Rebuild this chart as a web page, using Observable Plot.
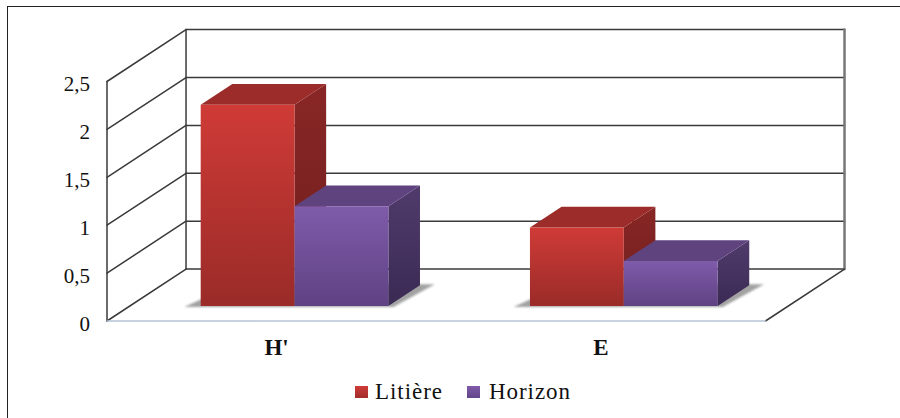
<!DOCTYPE html>
<html lang="fr">
<head>
<meta charset="utf-8">
<script src="https://cdn.jsdelivr.net/npm/d3@7"></script>
<script src="https://cdn.jsdelivr.net/npm/@observablehq/plot@0.6"></script>
<style>
  html, body { margin: 0; padding: 0; background: #fff; }
  #page { position: relative; width: 900px; height: 418px; overflow: hidden; font-family: "Liberation Serif", serif; color: #111; }
  #border { position: absolute; left: 7px; top: 6px; width: 900px; height: 420px; border-left: 1.5px solid #222; border-top: 1.5px solid #222; pointer-events: none; }
  #chart svg { display: block; }
  #legend { height: 40px; display: flex; align-items: center; padding-left: 355px; font-size: 23px; letter-spacing: 0.95px; }
  #legend .swatch { width: 13px; height: 12px; margin-right: 7px; }
  #legend .item { display: flex; align-items: center; margin-right: 24px; }
  #legend .item + .item .swatch { margin-right: 9px; }
</style>
</head>
<body>
<div id="page">
  <div id="chart"></div>
  <div id="legend"></div>
  <div id="border"></div>
</div>
<script>
// Diversité (H') et équitabilité (E) par compartiment
const categories = ["H'", "E"];
const series = ["Litière", "Horizon"];
const litiere = [2.1, 0.82];
const horizon = [1.04, 0.47];
const valuesBySeries = [litiere, horizon];
const yTicks = [0, 0.5, 1, 1.5, 2, 2.5];
const categoryTicks = [0.515, 1.5];

// Oblique projection: depth 0 is the front of the box, depth 1 the back wall.
const depthX = 0.24;    // category units per unit of depth
const depthY = 0.5417;  // value units per unit of depth
const yTop = 2.5;
const xEnd = categories.length;
const near = 0.29, far = 0.69;
const barWidth = 0.285;

const project = (c, v, d) => ({x: c + d * depthX, y: v + d * depthY});
const segment = (a, b) => [project(...a), project(...b)];
const poly = (...corners) => corners.map((c) => project(...c));

const palette = [
  {front: "url(#redFront)", side: "url(#redSide)", top: "#9b2c29"},
  {front: "url(#purpleFront)", side: "url(#purpleSide)", top: "#5e437e"}
];

// Wall grid lines and the box outline
const wire = (pts, stroke = "#3a3a3a", strokeWidth = 1.5) =>
  Plot.line(pts, {x: "x", y: "y", stroke, strokeWidth});

const gridMarks = [
  ...yTicks.map((v) => wire(segment([0, v, 1], [xEnd, v, 1]))),
  ...yTicks.map((v) => wire(segment([0, v, 0], [0, v, 1]))),
  wire(segment([0, 0, 0], [0, yTop, 0])),
  wire(segment([0, 0, 1], [0, yTop, 1])),
  wire(segment([xEnd, 0, 1], [xEnd, yTop, 1]), "#777", 2.5),
  wire(segment([xEnd, 0, 0], [xEnd, 0, 1])),
  wire(segment([0, 0, 0], [xEnd, 0, 0]), "#b4c4d6", 1.5)
];

// Soft floor shadow under each cluster, then the faces of each bar
const barMarks = categories.flatMap((_, i) => {
  const centre = i + 0.5;
  const shadow = Plot.line(
    poly(
      [centre - barWidth - 0.045, 0, near - 0.02],
      [centre + barWidth + 0.02, 0, near - 0.02],
      [centre + barWidth + 0.04, 0, far + 0.02],
      [centre - barWidth, 0, far + 0.02]
    ),
    {x: "x", y: "y", fill: "#a2a2a2", stroke: "none", imageFilter: "blur(1.2px)"}
  );
  const faces = series.flatMap((_, s) => {
    const v = valuesBySeries[s][i];
    const x0 = centre - barWidth + s * barWidth;
    const x1 = x0 + barWidth;
    const {front, side, top} = palette[s];
    const opts = (fill) => ({x: "x", y: "y", fill, stroke: "none"});
    return [
      Plot.line(poly([x1, 0, near], [x1, 0, far], [x1, v, far], [x1, v, near]), opts(side)),
      Plot.line(poly([x0, v, near], [x1, v, near], [x1, v, far], [x0, v, far]), opts(top)),
      Plot.line(poly([x0, 0, near], [x1, 0, near], [x1, v, near], [x0, v, near]), opts(front))
    ];
  });
  return [shadow, ...faces];
});

// Vertical gradients referenced by the bar faces
const gradient = (id, a, b) =>
  `<linearGradient id="${id}" x1="0" y1="0" x2="0" y2="1"><stop offset="0" stop-color="${a}"/><stop offset="1" stop-color="${b}"/></linearGradient>`;
const defsMark = () => {
  const defs = document.createElementNS("http://www.w3.org/2000/svg", "defs");
  defs.innerHTML =
    gradient("redFront", "#cf3b37", "#9a2b28") +
    gradient("redSide", "#882625", "#701f1e") +
    gradient("purpleFront", "#7f5baa", "#5f4283") +
    gradient("purpleSide", "#503b6c", "#3b2a54");
  return defs;
};

const plot = Plot.plot({
  width: 900,
  height: 372,
  marginLeft: 106.5,
  marginRight: 135,
  marginTop: 0,
  marginBottom: 0,
  style: {fontFamily: "'Liberation Serif', serif", background: "#fff", color: "#111"},
  x: {domain: [0, xEnd], range: [106.5, 765], axis: null},
  y: {domain: [0, yTop], range: [320.5, 81]},
  marks: [
    defsMark,
    ...gridMarks,
    ...barMarks,
    Plot.axisY({
      ticks: yTicks,
      tickSize: 0,
      tickPadding: 17,
      fontSize: 21,
      dy: 3,
      label: null,
      tickFormat: (d) => String(d).replace(".", ",")
    }),
    Plot.text(categories, {
      x: (_, i) => categoryTicks[i],
      y: 0,
      dy: 27,
      text: (d) => d,
      fontSize: 23,
      fontWeight: "bold",
      textAnchor: "middle"
    })
  ]
});
document.getElementById("chart").append(plot);

// Legend row under the chart
const swatches = ["linear-gradient(#cf3b37,#a12d2b)", "linear-gradient(#7f5baa,#634589)"];
const legend = document.getElementById("legend");
series.forEach((name, i) => {
  const item = document.createElement("div");
  item.className = "item";
  const sw = document.createElement("div");
  sw.className = "swatch";
  sw.style.background = swatches[i];
  const label = document.createElement("span");
  label.textContent = name;
  item.append(sw, label);
  legend.append(item);
});
</script>
</body>
</html>
